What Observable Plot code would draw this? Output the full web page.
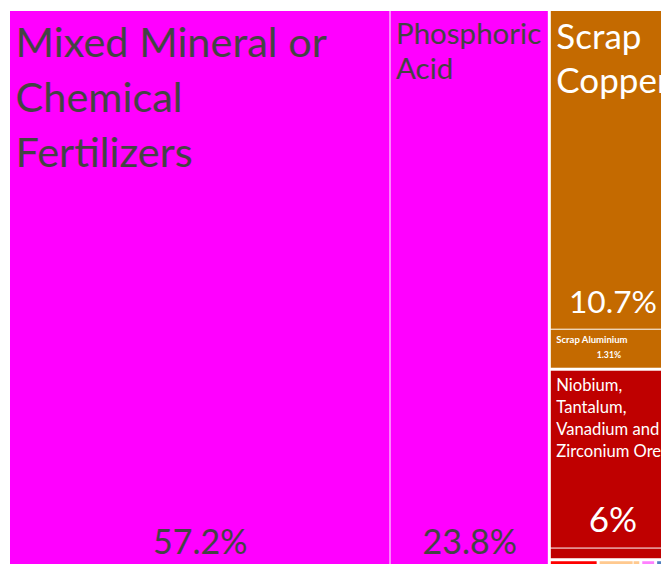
<!DOCTYPE html>
<html><head><meta charset="utf-8">
<script src="https://cdn.jsdelivr.net/npm/d3@7"></script>
<script src="https://cdn.jsdelivr.net/npm/@observablehq/plot@0.6"></script>
<style>html,body{margin:0;padding:0;overflow:hidden;background:#fff}</style>
</head><body><div id="chart"></div>
<script>
// ---- data ----
const products = [
  "Mixed Mineral or Chemical Fertilizers",
  "Phosphoric Acid",
  "Scrap Copper",
  "Scrap Aluminium",
  "Niobium, Tantalum, Vanadium and Zirconium Ore",
  "Other Ores",
  "Machinery Parts",
  "Dried Legumes",
  "Spices",
  "Plastic Articles",
  "Raw Hides",
  "Raw Cotton",
  "Measuring Instruments",
  "Packaged Foods",
  "Vehicle Parts",
  "Glass Articles",
  "Sawn Wood",
  "Other Products"
];
const sections = [
  "Chemical Products","Chemical Products",
  "Metals","Metals",
  "Mineral Products","Mineral Products",
  "Machines",
  "Vegetable Products","Vegetable Products",
  "Plastics and Rubbers",
  "Animal Hides",
  "Textiles",
  "Instruments",
  "Foodstuffs",
  "Transportation",
  "Stone and Glass",
  "Wood Products",
  "Miscellaneous"
];
const shares = [57.2, 23.8, 10.7, 1.31, 6, 0.36, 0.315, 0.23, 0.045, 0.035, 0.031, 0.03, 0.029, 0.027, 0.025, 0.023, 0.02, 0.017];
const sectionNames  = ["Chemical Products","Metals","Mineral Products","Machines","Vegetable Products","Plastics and Rubbers","Animal Hides","Textiles","Instruments","Foodstuffs","Transportation","Stone and Glass","Wood Products","Miscellaneous"];
const sectionColors = ["#ff00ff","#c46a00","#bf0000","#ff0000","#ffc98f","#ff80ff","#d88860","#00c000","#5080c0","#ffe000","#8080ff","#d0c0a0","#a06040","#808080"];

// ---- layout (d3 treemap, drawn through Plot scales) ----
const W = 666, H = 572;
const rows = products.map((p, i) => ({name: p, section: sections[i], value: shares[i]}));
const nested = Array.from(d3.group(rows, d => d.section), ([s, items]) => ({name: s, children: items}));
const root = d3.hierarchy({name: "root", children: nested})
  .sum(d => d.children ? 0 : d.value)
  .sort((a, b) => b.value - a.value);
function tile(node, x0, y0, x1, y1) {
  if (node.depth === 0) return d3.treemapSquarify(node, x0, y0, x1, y1);
  return (x1 - x0) > 0.8 * (y1 - y0)
    ? d3.treemapDice(node, x0, y0, x1, y1)
    : d3.treemapSlice(node, x0, y0, x1, y1);
}
d3.treemap().size([W, H]).paddingInner(n => n.depth === 0 ? 3 : 1).tile(tile)(root);
const leaves = root.leaves().map(n => ({
  name: n.data.name, section: n.data.section, share: n.data.value,
  x0: n.x0, x1: n.x1, y0: n.y0, y1: n.y1
}));

// ---- label styles ----
const labelStyle = {
  "Mixed Mineral or Chemical Fertilizers": {lines: ["Mixed Mineral or","Chemical","Fertilizers"], fs: 41.5, lh: 1.325, top: 6.5, sfs: 34, sb: 40, fill: "#444", sdx: 0},
  "Phosphoric Acid": {lines: ["Phosphoric","Acid"], fs: 29.5, lh: 1.2, top: 7, sfs: 34, sb: 40, fill: "#444", sdx: 0},
  "Scrap Copper": {lines: ["Scrap","Copper"], fs: 35, lh: 1.26, top: 6, sfs: 31.7, sb: 26, fill: "#fff", sdx: -1},
  "Scrap Aluminium": {lines: ["Scrap Aluminium"], fs: 9.5, lh: 1.2, top: 5, sfs: 8.7, sb: 13, fill: "#fff", bold: true, sdx: -5},
  "Niobium, Tantalum, Vanadium and Zirconium Ore": {lines: ["Niobium,","Tantalum,","Vanadium and","Zirconium Ore"], fs: 16.6, lh: 1.34, top: 3.6, sfs: 35, sb: 27, fill: "#fff", sdx: -1}
};

const textMarks = [];
for (const d of leaves) {
  const s = labelStyle[d.name];
  if (!s) continue;
  textMarks.push(Plot.text([d], {
    x: v => v.x0 + 5, y: v => v.y0 + s.top,
    text: () => s.lines.join("\n"),
    textAnchor: "start", lineAnchor: "top", lineHeight: s.lh,
    fontSize: s.fs, fill: s.fill, fontWeight: s.bold ? "bold" : "normal"
  }));
  textMarks.push(Plot.text([d], {
    x: v => (v.x0 + v.x1) / 2 + s.sdx, y: v => v.y1 - s.sb,
    text: v => v.share + "%",
    textAnchor: "middle", lineAnchor: "middle",
    fontSize: s.sfs, fill: s.fill, fontWeight: s.bold ? "bold" : "normal"
  }));
}

const chart = Plot.plot({
  width: 661, height: 564,
  margin: 0,
  style: {fontFamily: "Lato, 'Open Sans', sans-serif", background: "#fff"},
  x: {domain: [0, W], range: [10, 10 + W], axis: null},
  y: {domain: [0, H], range: [11, 11 + H], axis: null},
  color: {domain: sectionNames, range: sectionColors},
  marks: [
    Plot.rect(leaves, {x1: "x0", x2: "x1", y1: "y0", y2: "y1", fill: "section"}),
    ...textMarks
  ]
});
document.getElementById("chart").appendChild(chart);
</script>
</body></html>
